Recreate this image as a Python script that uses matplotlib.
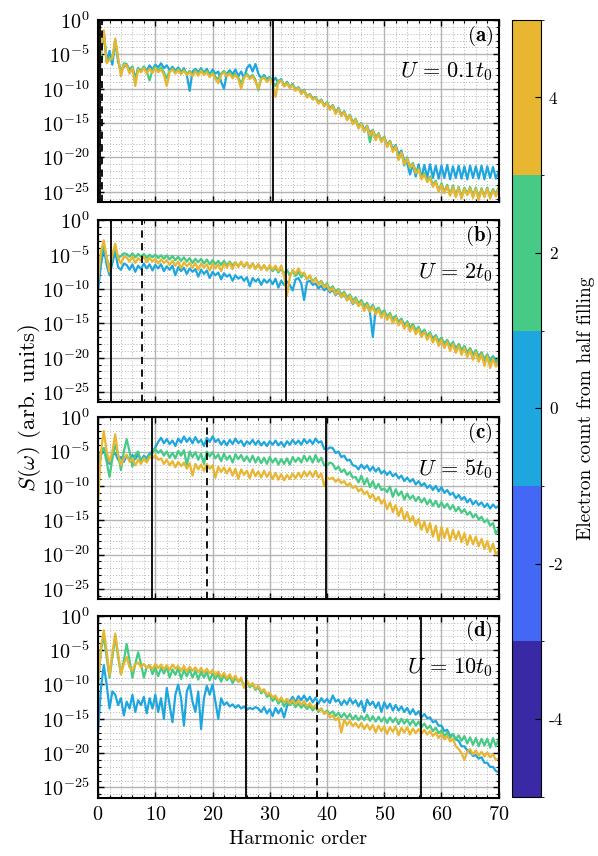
import numpy as np
import matplotlib
matplotlib.use('Agg')
import matplotlib.pyplot as plt
from matplotlib.colors import ListedColormap, BoundaryNorm
from matplotlib.cm import ScalarMappable
from matplotlib.ticker import FixedLocator, LogFormatterMathtext, NullFormatter

plt.rcParams['font.family'] = 'serif'
plt.rcParams['font.serif'] = ['cmr10', 'DejaVu Serif']
plt.rcParams['mathtext.fontset'] = 'cm'
plt.rcParams['axes.formatter.use_mathtext'] = True

# harmonic order axis (step 0.5)
harm = np.arange(0, 70.5, 0.5)

# log10 of S(w)
# panel (a), U = 0.1 t0
a_blue = [-12, -5, -1.8, -6, -4.5, -6.5, -3.0, -6, -7.5, -6.8,
          -6.5, -7.2, -6.8, -8.5, -7.0, -7.5, -6.8, -7.4, -6.6, -7.2,
          -6.5, -6.9, -6.3, -7.0, -6.6, -7.3, -6.8, -7.4, -6.9, -7.6,
          -7.0, -8.0, -10.3, -7.5, -7.1, -7.6, -7.0, -7.7, -7.1, -8.0,
          -7.2, -7.8, -7.5, -9.0, -10.0, -7.8, -7.3, -7.9, -7.2, -8.2,
          -7.5, -8.5, -7.0, -6.5, -7.5, -6.4, -7.8, -8.5, -8.0, -8.6,
          -8.3, -9.0, -8.4, -9.2, -8.6, -9.6, -9.0, -9.8, -9.3, -10.2,
          -9.8, -10.6, -10.2, -11.2, -10.8, -11.4, -11.2, -12.0, -11.6, -12.4,
          -12.0, -12.9, -12.4, -13.5, -12.8, -13.8, -13.3, -14.4, -13.8, -15.0,
          -14.4, -15.6, -15.0, -16.0, -15.4, -16.5, -16.0, -17.2, -16.5, -17.6,
          -17.0, -18.2, -17.6, -18.8, -18.2, -19.6, -19.0, -20.6, -20.8, -22.5,
          -21.0, -22.8, -21.0, -23.0, -21.1, -22.9, -21.0, -23.0, -21.2, -23.1,
          -21.2, -23.0, -21.1, -23.2, -21.3, -23.0, -21.2, -23.1, -21.3, -23.2,
          -21.2, -23.0, -21.3, -23.1, -21.2, -23.2, -21.3, -23.0, -21.4, -23.1, -22.0]
a_green = [-11, -4.5, -1.7, -6.0, -5.5, -5.8, -3.0, -5.8, -7.8, -6.3,
           -6.4, -7.5, -6.8, -9.0, -7.0, -7.4, -6.8, -7.5, -8.8, -7.3,
           -6.8, -7.4, -6.9, -7.6, -8.5, -7.4, -7.0, -7.6, -7.1, -7.7,
           -7.2, -7.9, -7.4, -8.0, -7.3, -7.9, -7.2, -7.8, -7.4, -8.1,
           -7.6, -8.3, -8.6, -7.8, -7.4, -8.0, -7.6, -8.2, -7.8, -8.4,
           -9.2, -8.2, -7.8, -8.4, -8.0, -8.7, -10.2, -8.4, -8.2, -8.8,
           -8.4, -9.0, -9.6, -8.8, -8.7, -9.5, -9.1, -9.8, -9.4, -10.1,
           -9.8, -10.6, -10.2, -11.1, -10.8, -11.5, -11.2, -12.0, -11.6, -12.4,
           -12.0, -12.9, -12.4, -13.5, -12.9, -13.9, -13.3, -14.4, -13.8, -15.0,
           -14.4, -15.7, -15.0, -16.2, -15.4, -17.8, -16.0, -17.3, -16.5, -17.7,
           -17.0, -18.4, -17.6, -19.0, -18.3, -20.2, -19.2, -21.2, -20.0, -21.4,
           -20.8, -22.0, -21.6, -23.0, -22.3, -23.4, -22.8, -24.0, -23.4, -24.8,
           -23.8, -25.0, -24.0, -25.4, -24.1, -25.5, -24.3, -25.8, -24.4, -25.3,
           -24.3, -25.6, -24.4, -25.9, -24.5, -25.6, -24.4, -25.8, -24.6, -25.4, -24.3]
a_yellow = [-12, -4, -1.5, -6.3, -5.8, -5.5, -2.7, -5.5, -8.2, -6.5,
            -6.6, -7.8, -7.0, -9.6, -7.2, -7.6, -7.0, -7.8, -7.1, -7.7,
            -7.0, -7.6, -7.2, -8.0, -9.6, -7.6, -7.2, -7.8, -7.3, -7.9,
            -7.4, -8.0, -7.6, -8.2, -7.5, -8.1, -7.4, -8.0, -7.6, -8.3,
            -7.8, -8.6, -9.2, -8.0, -7.6, -8.2, -7.8, -8.5, -8.0, -8.6,
            -10.0, -8.4, -8.0, -8.6, -8.2, -9.0, -10.0, -8.6, -8.4, -9.0,
            -8.6, -9.2, -11.2, -9.0, -8.8, -9.7, -9.2, -9.9, -9.5, -10.3,
            -9.9, -10.8, -10.3, -11.3, -10.9, -11.6, -11.3, -12.2, -11.7, -12.6,
            -12.1, -13.1, -12.5, -13.7, -13.0, -14.0, -13.4, -14.6, -13.9, -15.2,
            -14.5, -15.8, -15.1, -16.3, -15.5, -16.8, -16.1, -17.5, -16.6, -17.8,
            -17.1, -18.5, -17.7, -19.2, -18.4, -20.4, -19.3, -21.0, -20.2, -21.5,
            -21.0, -22.3, -21.8, -23.2, -22.5, -23.6, -23.0, -24.3, -23.6, -25.0,
            -24.0, -25.2, -24.2, -25.6, -24.3, -25.8, -24.5, -26.0, -24.6, -25.5,
            -24.5, -25.9, -24.6, -26.2, -24.7, -25.8, -24.6, -26.0, -24.8, -25.7, -24.5]

# panel (b), U = 2 t0
b_blue = [-10.2, -6.5, -4.0, -6.5, -8.0, -6.2, -4.5, -6.8, -7.2, -6.3,
          -6.5, -7.2, -6.4, -7.5, -6.6, -7.1, -6.3, -7.0, -6.4, -7.3,
          -6.5, -7.0, -6.4, -7.4, -6.7, -7.2, -6.6, -8.0, -6.8, -7.4,
          -6.9, -7.8, -7.0, -7.5, -7.1, -8.2, -7.2, -7.8, -7.3, -8.4,
          -7.5, -8.0, -7.6, -8.6, -7.7, -8.2, -7.9, -8.8, -8.0, -8.5,
          -8.2, -8.8, -8.3, -9.6, -8.4, -8.9, -8.5, -9.4, -8.6, -9.1,
          -8.6, -9.3, -8.5, -9.8, -8.8, -9.4, -8.9, -9.4, -10.2, -8.6,
          -8.4, -9.2, -11.6, -9.0, -8.8, -9.4, -9.2, -9.9, -9.5, -10.2,
          -9.8, -10.5, -10.1, -10.9, -10.4, -11.2, -10.8, -11.6, -11.2, -12.2,
          -11.6, -12.4, -12.0, -12.8, -12.3, -13.4, -17.0, -13.0, -12.8, -13.6,
          -13.2, -14.0, -13.6, -14.5, -14.0, -14.8, -14.4, -15.2, -14.8, -15.6,
          -15.2, -16.0, -15.6, -16.4, -16.0, -16.8, -16.4, -17.2, -16.8, -17.6,
          -17.2, -17.9, -17.5, -18.3, -17.8, -18.6, -18.1, -18.9, -18.4, -19.2,
          -18.7, -19.5, -19.0, -19.8, -19.3, -20.6, -19.6, -20.3, -19.8, -20.5, -20.2]
b_green = [-7.8, -5.0, -3.5, -5.5, -7.0, -5.2, -4.0, -5.5, -5.2, -4.8,
           -4.9, -5.3, -4.8, -5.4, -4.9, -5.3, -4.9, -5.5, -5.0, -5.4,
           -5.0, -5.5, -5.1, -5.6, -5.1, -5.7, -5.2, -5.8, -5.3, -5.9,
           -5.4, -6.0, -5.5, -6.2, -5.6, -6.1, -5.6, -6.3, -5.7, -6.4,
           -5.8, -6.4, -5.9, -6.5, -5.9, -6.6, -6.0, -6.6, -6.1, -6.7,
           -6.1, -6.8, -6.2, -6.9, -6.3, -7.0, -6.4, -7.1, -6.6, -7.2,
           -6.8, -7.4, -6.9, -7.6, -7.0, -7.8, -7.2, -8.0, -7.4, -8.1,
           -7.5, -8.3, -7.8, -8.6, -8.1, -8.9, -8.4, -9.2, -8.8, -9.6,
           -9.2, -10.0, -9.6, -10.4, -10.0, -10.8, -10.4, -11.2, -10.8, -11.7,
           -11.2, -12.1, -11.6, -12.5, -12.0, -12.9, -12.3, -13.3, -12.7, -13.7,
           -13.1, -14.1, -13.5, -14.5, -13.9, -14.9, -14.3, -15.6, -14.7, -15.7,
           -15.1, -16.1, -15.5, -16.8, -15.9, -16.9, -16.3, -17.6, -16.7, -17.6,
           -17.1, -18.2, -17.4, -18.4, -17.7, -18.9, -18.0, -19.0, -18.3, -19.4,
           -18.6, -19.6, -18.9, -20.0, -19.2, -20.2, -19.5, -20.6, -19.8, -21.0, -20.0]
b_yellow = [-8.7, -4.5, -2.9, -5.5, -7.5, -5.0, -3.4, -5.5, -6.3, -5.3,
            -5.4, -6.0, -5.3, -6.2, -5.5, -5.9, -5.3, -6.1, -5.5, -6.0,
            -5.6, -6.3, -5.7, -6.2, -5.8, -6.5, -5.9, -6.6, -6.0, -7.0,
            -6.1, -6.7, -6.2, -6.9, -6.2, -7.2, -6.3, -6.9, -6.4, -7.3,
            -6.3, -7.0, -6.4, -7.4, -6.3, -6.9, -6.2, -7.1, -6.1, -6.8,
            -6.0, -6.8, -6.1, -7.0, -6.3, -7.1, -6.4, -7.2, -6.5, -7.3,
            -6.5, -7.2, -6.6, -7.4, -6.6, -8.0, -11.0, -8.3, -7.2, -7.8,
            -7.0, -7.8, -7.6, -8.6, -8.0, -9.0, -8.5, -9.4, -8.9, -9.8,
            -9.4, -10.3, -9.8, -10.8, -10.2, -11.2, -10.6, -11.7, -11.0, -12.1,
            -11.5, -12.5, -11.9, -13.2, -12.3, -13.3, -12.6, -13.7, -13.0, -14.2,
            -13.4, -14.5, -13.8, -15.0, -14.2, -15.3, -14.6, -15.8, -15.0, -16.2,
            -15.4, -16.6, -15.8, -17.0, -16.2, -17.4, -16.6, -17.8, -17.0, -18.3,
            -17.4, -18.6, -17.7, -19.0, -18.0, -19.3, -18.3, -19.6, -18.6, -19.9,
            -18.9, -20.3, -19.2, -20.6, -19.5, -21.2, -19.8, -21.5, -20.2, -21.3, -20.6]

# panel (c), U = 5 t0
c_blue = [-8.0, -5.5, -4.5, -6.0, -6.8, -5.6, -5.2, -6.2, -5.8, -6.5,
          -5.6, -6.2, -5.5, -6.1, -5.4, -6.3, -5.6, -6.0, -5.3, -5.0,
          -4.4, -3.6, -3.0, -3.8, -3.2, -3.9, -3.4, -4.2, -3.1, -3.7,
          -2.8, -3.6, -3.0, -3.8, -2.9, -3.7, -3.3, -4.2, -3.0, -3.6,
          -2.8, -3.6, -3.2, -4.0, -3.4, -4.1, -3.3, -3.9, -3.1, -3.8,
          -3.4, -4.2, -3.5, -3.9, -3.3, -4.0, -3.4, -4.1, -3.6, -4.2,
          -3.5, -4.0, -3.4, -4.1, -3.6, -4.3, -3.5, -4.0, -3.3, -3.9,
          -3.4, -4.0, -3.2, -3.8, -3.3, -3.9, -3.1, -3.7, -3.5, -4.6,
          -4.7, -4.4, -4.5, -5.2, -5.0, -5.8, -5.6, -6.3, -6.2, -7.0,
          -7.1, -7.6, -6.9, -7.5, -7.0, -7.8, -7.2, -7.9, -7.4, -8.2,
          -7.8, -8.4, -7.9, -8.6, -8.2, -8.9, -8.5, -9.3, -8.8, -9.4,
          -9.0, -9.8, -9.3, -10.0, -9.6, -10.3, -9.9, -10.6, -10.0, -10.8,
          -10.2, -11.0, -10.6, -11.3, -11.0, -11.8, -11.3, -12.0, -11.6, -12.4,
          -11.9, -12.7, -12.2, -12.8, -12.4, -13.1, -12.6, -13.3, -12.7, -13.2, -12.9]
c_green = [-7.0, -5.0, -4.5, -6.5, -8.7, -6.0, -4.0, -5.5, -7.7, -5.0,
           -3.2, -5.0, -7.2, -5.5, -5.0, -6.5, -5.8, -6.3, -5.5, -5.2,
           -4.6, -5.2, -4.8, -5.6, -5.0, -5.9, -5.2, -6.0, -4.9, -5.6,
           -4.8, -7.0, -5.0, -5.8, -5.1, -6.2, -5.3, -6.8, -5.0, -5.7,
           -5.1, -6.0, -5.4, -6.4, -5.3, -6.2, -5.6, -6.6, -5.4, -6.1,
           -5.5, -6.4, -5.7, -6.5, -5.6, -6.6, -5.8, -6.7, -5.9, -6.8,
           -5.8, -6.6, -6.0, -6.9, -6.1, -6.8, -6.0, -6.9, -5.8, -6.5,
           -5.9, -6.6, -5.6, -6.4, -5.7, -6.6, -5.5, -6.5, -5.9, -7.0,
           -7.0, -6.6, -6.8, -7.6, -7.2, -8.0, -7.6, -8.4, -8.0, -8.8,
           -8.7, -9.5, -8.5, -9.8, -8.9, -10.2, -9.3, -10.4, -9.7, -10.6,
           -10.4, -10.9, -10.1, -11.6, -10.5, -11.4, -10.8, -12.0, -11.1, -11.9,
           -11.4, -12.2, -11.6, -12.4, -11.8, -12.7, -12.0, -12.9, -12.2, -13.1,
           -12.4, -13.2, -12.6, -13.4, -12.8, -13.7, -13.1, -13.9, -13.4, -14.2,
           -13.8, -14.6, -14.1, -14.9, -14.5, -15.3, -14.9, -15.8, -15.4, -17.0, -16.2]
c_yellow = [-12.4, -5.0, -2.0, -5.0, -6.5, -5.0, -2.5, -5.5, -7.0, -6.0,
            -5.5, -6.5, -6.0, -7.0, -6.2, -6.8, -6.0, -6.6, -5.8, -6.0,
            -5.5, -6.2, -6.0, -6.8, -6.2, -7.0, -6.4, -7.3, -6.5, -7.1,
            -6.6, -7.5, -6.7, -8.5, -6.8, -7.6, -6.9, -7.8, -6.8, -7.5,
            -7.0, -8.8, -7.2, -8.0, -7.3, -8.2, -7.4, -8.5, -7.5, -9.0,
            -7.6, -8.4, -7.8, -8.9, -7.6, -8.6, -7.9, -8.8, -7.8, -8.7,
            -8.0, -9.0, -8.1, -9.1, -8.3, -9.2, -8.4, -9.0, -8.2, -8.9,
            -8.1, -8.8, -7.9, -8.6, -7.9, -8.7, -7.8, -8.8, -8.2, -10.0,
            -8.8, -9.0, -8.8, -9.4, -9.0, -9.6, -9.3, -10.0, -9.6, -10.3,
            -10.0, -10.8, -10.4, -11.2, -10.8, -11.8, -11.2, -12.2, -11.6, -12.6,
            -12.0, -13.4, -12.4, -13.8, -12.8, -14.4, -13.2, -15.0, -13.8, -15.2,
            -14.4, -15.8, -14.8, -16.4, -15.2, -16.8, -15.4, -17.4, -15.8, -18.0,
            -16.0, -17.6, -16.2, -18.0, -16.4, -17.8, -16.6, -18.2, -16.9, -18.6,
            -17.2, -18.5, -17.4, -18.8, -17.7, -19.2, -18.0, -19.6, -18.4, -20.0, -19.4]

# panel (d), U = 10 t0
d_blue = [-17.0, -10.5, -7.2, -10.0, -13.5, -11.0, -11.5, -13.0, -12.0, -14.5,
          -12.5, -13.5, -11.5, -14.0, -12.3, -13.0, -11.8, -14.2, -12.0, -13.5,
          -11.5, -14.0, -12.0, -15.0, -10.5, -13.0, -15.5, -11.5, -10.0, -12.0,
          -16.0, -11.0, -10.0, -12.5, -14.0, -11.0, -16.5, -12.0, -10.2, -11.5,
          -10.0, -12.5, -15.0, -12.0, -13.0, -12.6, -13.2, -12.9, -13.4, -13.0,
          -13.5, -13.2, -13.7, -13.4, -13.6, -13.3, -13.5, -14.0, -13.3, -14.2,
          -13.6, -14.6, -13.4, -14.2, -13.5, -14.8, -13.2, -12.4, -11.8, -12.6,
          -11.7, -12.3, -11.6, -12.4, -11.8, -12.6, -11.9, -12.8, -12.0, -12.6,
          -12.1, -12.7, -11.6, -12.5, -12.2, -13.0, -12.3, -12.9, -12.0, -12.8,
          -12.3, -13.2, -12.4, -14.0, -12.2, -13.0, -12.5, -13.4, -12.6, -14.0,
          -12.6, -13.5, -12.8, -13.8, -13.0, -13.8, -13.2, -14.0, -13.4, -14.3,
          -13.6, -14.4, -13.9, -14.8, -14.3, -14.9, -14.8, -15.5, -15.3, -16.0,
          -16.0, -16.8, -16.6, -17.5, -17.3, -18.0, -18.2, -19.0, -19.0, -19.6,
          -19.8, -20.4, -20.3, -20.8, -20.6, -21.4, -21.4, -22.0, -22.0, -22.6, -22.8]
d_green = [-10.0, -5.0, -3.0, -6.0, -9.0, -6.0, -3.0, -6.0, -8.5, -6.5,
           -4.1, -6.5, -9.0, -7.0, -5.3, -7.0, -9.0, -7.5, -7.2, -8.5,
           -7.5, -8.8, -7.6, -8.4, -7.4, -9.0, -7.8, -8.6, -7.6, -9.2,
           -7.9, -8.8, -7.8, -9.0, -8.0, -9.3, -8.1, -9.0, -8.2, -9.4,
           -8.4, -9.2, -8.5, -9.6, -8.6, -9.4, -8.8, -9.8, -9.0, -9.6,
           -9.3, -10.2, -9.6, -10.4, -10.0, -10.8, -10.4, -11.3, -10.8, -11.8,
           -11.5, -12.4, -11.9, -12.8, -12.2, -13.2, -12.5, -13.0, -12.6, -13.3,
           -12.8, -13.4, -12.9, -13.6, -13.1, -13.8, -13.2, -14.0, -13.5, -14.2,
           -13.8, -14.3, -13.9, -14.6, -14.1, -14.8, -14.2, -14.9, -14.3, -15.1,
           -14.5, -15.2, -14.6, -15.2, -14.4, -15.3, -14.6, -15.4, -14.7, -15.4,
           -14.8, -15.6, -14.8, -15.5, -14.9, -15.8, -15.0, -15.7, -15.1, -15.9,
           -15.2, -16.0, -15.4, -16.2, -15.7, -16.4, -16.0, -16.8, -16.3, -17.1,
           -16.7, -17.5, -17.0, -17.8, -17.2, -18.0, -17.4, -18.2, -17.5, -18.6,
           -17.7, -18.8, -17.8, -19.0, -17.9, -18.9, -17.9, -19.2, -17.8, -19.0, -17.9]
d_yellow = [-9.7, -4.5, -2.1, -5.0, -8.7, -5.5, -2.6, -5.5, -8.5, -7.0,
            -6.0, -7.5, -8.0, -7.0, -6.8, -7.5, -7.0, -7.6, -7.2, -7.8,
            -7.0, -7.6, -7.1, -7.8, -7.2, -7.9, -7.1, -7.7, -7.3, -8.0,
            -7.3, -8.1, -7.4, -8.0, -7.5, -8.2, -7.6, -8.3, -7.7, -8.4,
            -7.9, -8.6, -8.1, -8.9, -8.3, -9.1, -8.5, -9.3, -8.7, -9.6,
            -9.0, -10.5, -9.4, -10.2, -9.8, -10.6, -10.2, -11.0, -10.7, -11.5,
            -11.2, -11.9, -11.6, -12.4, -11.9, -12.6, -12.1, -12.8, -12.2, -12.9,
            -12.3, -13.0, -12.4, -13.2, -12.7, -13.4, -13.0, -13.8, -13.5, -14.3,
            -14.0, -14.8, -14.5, -15.2, -14.8, -17.0, -15.1, -15.9, -15.3, -16.1,
            -15.6, -16.3, -15.6, -16.5, -15.8, -16.6, -15.9, -17.0, -16.0, -16.8,
            -16.1, -17.2, -16.2, -16.9, -16.1, -17.4, -16.3, -17.0, -16.2, -17.3,
            -16.4, -17.1, -16.5, -17.2, -16.6, -17.3, -16.8, -17.5, -17.0, -17.8,
            -17.2, -18.0, -17.5, -18.3, -17.9, -19.0, -19.4, -20.0, -21.0, -19.8,
            -19.4, -20.2, -19.6, -20.4, -19.8, -20.5, -19.9, -20.6, -20.2, -21.0, -20.8]

panels = [(a_blue, a_green, a_yellow), (b_blue, b_green, b_yellow),
          (c_blue, c_green, c_yellow), (d_blue, d_green, d_yellow)]
panel_tags = ['(a)', '(b)', '(c)', '(d)']
u_labels = [r'$U\,=\,0.1t_0$', r'$U\,=\,2t_0$', r'$U\,=\,5t_0$', r'$U\,=\,10t_0$']
solid_lines = [[0.3, 30.5], [2.3, 32.9], [9.4, 39.9], [25.9, 56.5]]
dashed_lines = [[0.6], [7.6], [19.1], [38.2]]

cbar_levels = [-4, -2, 0, 2, 4]
cbar_colors = ['#3a29a5', '#4368f5', '#1ea6df', '#46ca86', '#e8b630']
series_colors = [cbar_colors[2], cbar_colors[3], cbar_colors[4]]

fig = plt.figure(figsize=(5.98, 8.56), dpi=100)
bottoms = [0.764, 0.530, 0.300, 0.068]
axes = []
for i in range(4):
    ax = fig.add_axes([0.164, bottoms[i], 0.670, 0.2126])
    axes.append(ax)
    for vals, col in zip(panels[i], series_colors):
        ax.plot(harm, 10.0 ** np.array(vals), color=col, lw=1.6)
    for xv in solid_lines[i]:
        ax.axvline(xv, color='k', lw=1.3)
    for xv in dashed_lines[i]:
        ax.axvline(xv, color='k', lw=1.3, ls=(0, (4, 3)))
    ax.set_yscale('log')
    ax.set_xlim(0, 70)
    ax.set_ylim(10 ** -26.5, 1)
    ax.yaxis.set_major_locator(FixedLocator(10.0 ** np.arange(-25, 1, 5)))
    ax.yaxis.set_major_formatter(LogFormatterMathtext())
    ax.yaxis.set_minor_locator(FixedLocator(10.0 ** np.arange(-26, 1, 1)))
    ax.yaxis.set_minor_formatter(NullFormatter())
    ax.set_xticks(np.arange(0, 71, 10))
    ax.set_xticks(np.arange(0, 71, 2), minor=True)
    ax.grid(which='major', color='#b4b4b4', lw=1.0)
    ax.grid(which='minor', color='#b4b4b4', lw=0.7, ls=(0, (1, 2)))
    ax.set_axisbelow(True)
    ax.tick_params(which='both', direction='in', top=True, right=True, labelsize=14.5, pad=6)
    ax.tick_params(which='major', length=4, width=1)
    ax.tick_params(which='minor', length=2.5, width=0.8)
    for sp in ax.spines.values():
        sp.set_linewidth(1.5)
    if i < 3:
        ax.set_xticklabels([])
    ax.text(0.985, 0.915, r'$\mathbf{' + panel_tags[i] + '}$', transform=ax.transAxes,
            ha='right', va='center', fontsize=15)
    ax.text(0.985, 0.714, u_labels[i], transform=ax.transAxes,
            ha='right', va='center', fontsize=16)

axes[3].set_xlabel('Harmonic order', fontsize=14.5)
fig.text(0.05, 0.523, r'$S(\omega)$ (arb. units)', rotation=90, ha='center', va='center',
         fontsize=16.5)

cax = fig.add_axes([0.856, 0.069, 0.048, 0.908])
cmap = ListedColormap(cbar_colors)
norm = BoundaryNorm([-5, -3, -1, 1, 3, 5], cmap.N)
cb = fig.colorbar(ScalarMappable(norm=norm, cmap=cmap), cax=cax, ticks=cbar_levels)
cb.ax.set_yticklabels([str(v) for v in cbar_levels])
cb.ax.tick_params(direction='in', length=4, labelsize=12.5, pad=6)
cb.set_label('Electron count from half filling', fontsize=14, labelpad=10)

fig.savefig('out.png', dpi=100)
